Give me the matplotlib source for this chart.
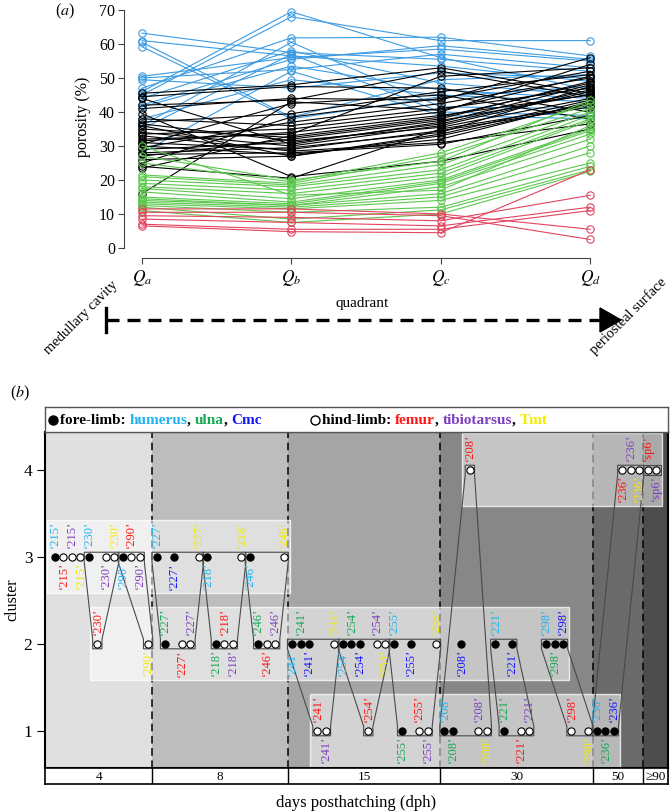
import matplotlib
matplotlib.use('Agg')
import matplotlib.pyplot as plt
from matplotlib.patches import Polygon, Rectangle
from matplotlib.lines import Line2D

plt.rcParams['font.family'] = ['Liberation Serif', 'DejaVu Serif']
plt.rcParams['mathtext.fontset'] = 'stix'

# ---------------- panel (a): porosity per quadrant ----------------
quadrants = ['$Q_a$', '$Q_b$', '$Q_c$', '$Q_d$']

blue_lines = [
    [63.2, 57.5, 55.5, 52.0], [61.0, 56.5, 53.5, 49.0], [60.5, 38.5, 49.5, 51.0],
    [59.2, 38.0, 44.5, 47.5], [50.5, 56.0, 58.5, 55.0], [50.0, 52.5, 57.0, 53.0],
    [49.5, 47.0, 51.5, 50.0], [47.0, 61.8, 62.0, 56.5], [46.0, 69.5, 56.0, 46.5],
    [45.0, 68.0, 61.0, 61.0], [44.0, 58.0, 48.5, 45.0], [42.0, 55.5, 59.5, 55.5],
    [41.5, 53.5, 46.5, 44.0], [38.0, 49.5, 45.0, 43.0], [36.0, 60.5, 41.5, 41.0],
    [35.0, 57.0, 40.0, 39.0], [28.0, 52.0, 39.0, 38.0],
]
black_lines = [
    [45.5, 48.0, 53.0, 45.5], [44.5, 47.5, 47.0, 40.0], [44.0, 30.5, 37.0, 48.0],
    [42.0, 43.5, 52.0, 44.5], [41.0, 44.0, 43.5, 56.0], [39.5, 21.0, 25.5, 35.0],
    [38.0, 36.0, 41.0, 47.0], [37.0, 39.5, 46.0, 51.0], [36.5, 31.5, 35.5, 44.0],
    [36.0, 27.0, 33.0, 42.5], [35.0, 32.5, 38.0, 49.0], [34.0, 30.0, 36.0, 46.0],
    [33.5, 35.0, 40.0, 54.0], [33.0, 28.5, 31.0, 36.5], [32.0, 33.5, 50.5, 53.0],
    [31.5, 34.0, 39.0, 45.0], [31.0, 29.0, 34.5, 41.5], [30.5, 42.5, 45.0, 38.0],
    [30.0, 27.5, 32.0, 43.0], [29.5, 37.0, 42.5, 50.0], [29.0, 31.0, 36.5, 46.5],
    [28.0, 29.5, 34.0, 47.5], [27.5, 28.0, 30.5, 39.0], [27.0, 32.0, 37.5, 45.2],
    [26.0, 27.0, 33.5, 43.5], [25.0, 38.5, 44.0, 52.0], [24.0, 20.5, 35.0, 42.0],
    [23.5, 33.0, 38.5, 48.5], [16.0, 43.0, 40.5, 50.5],
]
green_lines = [
    [30.0, 15.5, 17.0, 36.0], [27.0, 20.0, 25.5, 43.5], [25.0, 19.5, 28.0, 42.5],
    [21.5, 19.0, 27.0, 41.0], [21.0, 18.5, 24.5, 40.0], [20.0, 18.0, 23.0, 39.0],
    [19.0, 17.0, 22.0, 38.0], [18.0, 16.0, 21.0, 37.5], [17.5, 14.5, 20.0, 35.0],
    [16.5, 13.5, 19.5, 34.5], [15.0, 13.0, 19.0, 33.5], [14.5, 12.5, 18.0, 32.0],
    [14.0, 12.5, 16.0, 30.0], [13.5, 12.0, 15.0, 28.0], [13.0, 11.5, 14.0, 25.0],
    [12.5, 10.5, 12.0, 24.0], [12.0, 8.5, 11.2, 23.0], [11.0, 7.5, 10.0, 22.5],
]
red_lines = [
    [11.5, 11.5, 10.0, 5.5], [10.5, 10.5, 9.5, 2.5], [9.5, 9.0, 8.0, 15.5],
    [8.5, 7.5, 6.5, 12.0], [7.0, 5.5, 5.5, 11.0], [6.5, 4.8, 4.5, 23.0],
]

# ---------------- panel (b): clusters per specimen / bone ----------------
specimens = ['215', '230', '290', '227', '218', '246', '241', '254', '255',
             '208', '221', '298', '236', 'sp6']
spec_age = ['4', '4', '4', '8', '8', '8', '15', '15', '15',
            '30', '30', '30', '50', '≥90']
spec_nbones = [4, 4, 4, 6, 5, 5, 6, 6, 6, 6, 6, 6, 6, 2]
point_bone = list('HFTM' * 3 + 'HUCFTM' + 'HUFTM' * 2 + 'HUCFTM' * 7 + 'FT')
point_cluster = [3, 3, 3, 3,  3, 2, 3, 3,  3, 3, 3, 2,
                 3, 2, 3, 2, 2, 3,  3, 2, 2, 2, 3,  3, 2, 2, 2, 3,
                 2, 2, 2, 1, 1, 2,  2, 2, 2, 1, 2, 2,  2, 1, 2, 1, 1, 2,
                 1, 1, 2, 4, 1, 1,  2, 1, 2, 1, 1, None,  2, 2, 2, 1, None, 1,
                 1, 1, 1, 4, 4, 4,  4, 4]
label_up = [1, 0, 1, 0,  1, 1, 0, 1,  0, 1, 0, 0,
            1, 1, 0, 0, 1, 1,  0, 0, 1, 0, 1,  0, 1, 0, 1, 1,
            0, 1, 0, 1, 0, 1,  0, 1, 0, 1, 1, 0,  1, 0, 0, 1, 0, 1,
            1, 0, 0, 1, 1, 0,  1, 1, 0, 0, 1, 0,  1, 0, 1, 1, 0, 0,
            1, 0, 1, 0, 1, 0,  1, 0]
boxed_single = ['sp6']
ages = ['4', '8', '15', '30', '50', '≥90']
age_grey = ['#e0e0e0', '#bdbdbd', '#a5a5a5', '#878787', '#6a6a6a', '#4d4d4d']

bone_color = {'H': '#1db4f0', 'U': '#15a852', 'C': '#1414ff',
              'F': '#ff1414', 'T': '#7d3fbe', 'M': '#f2ea00'}
fore = set('HUC')

BLUE, BLACK, GREEN, RED = '#3b9be3', '#000000', '#5cc84e', '#e2445f'

W, H = 670, 811
fig = plt.figure(figsize=(W / 100, H / 100), dpi=100)


def fx(x):
    return x / W


def fy(y):
    return 1 - y / H


def px_axes(l, t, r, b):
    return fig.add_axes([l / W, 1 - b / H, (r - l) / W, (b - t) / H])


# ---- panel (a)
ax = px_axes(124, 0.5, 608, 257.5)
for rows, col in [(blue_lines, BLUE), (black_lines, BLACK),
                  (green_lines, GREEN), (red_lines, RED)]:
    for r in rows:
        ax.plot(range(4), r, color=col, lw=0.8, marker='o', ms=5.3,
                mfc='none', mec=col, mew=0.8)
ax.set_xlim(-0.12, 3.12)
ax.set_ylim(-2.8, 72.8)
for s in ['top', 'right']:
    ax.spines[s].set_visible(False)
ax.spines['left'].set_bounds(0, 70)
ax.spines['bottom'].set_bounds(0, 3)
for s in ['left', 'bottom']:
    ax.spines[s].set_color('#444444')
    ax.spines[s].set_linewidth(0.8)
ax.set_yticks(range(0, 71, 10))
ax.set_xticks(range(4))
ax.set_xticklabels(quadrants, fontsize=12.5)
ax.tick_params(axis='y', labelsize=11.5, length=4.5, width=0.8, color='#444444', pad=2)
ax.tick_params(axis='x', length=4.5, width=0.8, color='#444444', pad=3)

fig.text(fx(83), fy(117), 'porosity (%)', rotation=90, ha='center', va='center', fontsize=11.5)
fig.text(fx(65), fy(11), '($a$)', ha='center', va='center', fontsize=11.5)
fig.text(fx(362), fy(303), 'quadrant', ha='center', va='center', fontsize=11)

# arrow from medullary cavity to periosteal surface
fig.add_artist(Line2D([fx(106), fx(602)], [fy(320), fy(320)], color='k', lw=2.4,
                      ls=(0, (3.9, 2.4)), solid_capstyle='butt'))
fig.add_artist(Line2D([fx(106), fx(106)], [fy(308), fy(332)], color='k', lw=2.4))
fig.add_artist(Polygon([[fx(600), fy(308)], [fx(600), fy(332)], [fx(621), fy(320)]],
                       closed=True, color='k', transform=fig.transFigure))
fig.text(fx(116), fy(283), 'medullary cavity', rotation=45, rotation_mode='anchor',
         ha='right', va='center', fontsize=10.5)
fig.text(fx(664), fy(280), 'periosteal surface', rotation=45, rotation_mode='anchor',
         ha='right', va='center', fontsize=10.5)

# ---- panel (b)
fig.text(fx(20), fy(393), '($b$)', ha='center', va='center', fontsize=11.5)

n_slots = len(point_bone)
slot_spec = []
for s, n in zip(specimens, spec_nbones):
    slot_spec += [s] * n
slot_age = [spec_age[specimens.index(s)] for s in slot_spec]

axb = px_axes(45, 432, 668, 768)
xl = (-1.18, 72.4)
axb.set_xlim(*xl)
axb.set_ylim(0.575, 4.437)

# age columns
age_lo, age_hi = [], []
for a in ages:
    idx = [i for i in range(n_slots) if slot_age[i] == a]
    age_lo.append(min(idx))
    age_hi.append(max(idx))
bounds = [xl[0]] + [(age_hi[i] + age_lo[i + 1]) / 2 for i in range(len(ages) - 1)] + [xl[1]]
for i, a in enumerate(ages):
    axb.axvspan(bounds[i], bounds[i + 1], color=age_grey[i], lw=0, zorder=0)
for b in bounds[1:-1]:
    axb.axvline(b, color='k', lw=1.1, ls=(0, (5, 3)), zorder=1)

# cluster bands
for c in [1, 2, 3, 4]:
    idx = [i for i in range(n_slots) if point_cluster[i] == c]
    x0, x1 = min(idx) - 0.9, max(idx) + 0.75
    axb.add_patch(Rectangle((x0, c - 0.41), x1 - x0, 0.84, fc=(1, 1, 1, 0.52),
                            ec=(1, 1, 1, 0.75), lw=1, zorder=2))

# specimen outlines
h, dx = 0.055, 0.55
for s in specimens:
    idx = [i for i in range(n_slots) if slot_spec[i] == s and point_cluster[i] is not None]
    cs = [point_cluster[i] for i in idx]
    ct, cb = max(cs), min(cs)
    it = [i for i in idx if point_cluster[i] == ct]
    ib = [i for i in idx if point_cluster[i] == cb]
    L1, R1 = min(it) - dx, max(it) + dx
    L2, R2 = min(ib) - dx, max(ib) + dx
    if ct != cb:
        pts = [(L1, ct + h), (R1, ct + h), (R1, ct - h), (R2, cb + h),
               (R2, cb - h), (L2, cb - h), (L2, cb + h), (L1, ct - h)]
    elif s in boxed_single:
        pts = [(L1, ct + h), (R1, ct + h), (R1, ct - h), (L1, ct - h)]
    else:
        continue
    axb.add_patch(Polygon(pts, closed=True, fill=False, ec='#4a4a4a', lw=0.8, zorder=3))

# points and labels
for i in range(n_slots):
    c = point_cluster[i]
    if c is None:
        continue
    b = point_bone[i]
    axb.plot(i, c, 'o', ms=5.2, mec='k', mew=0.8,
             mfc='k' if b in fore else 'white', zorder=4)
    lab = '‘' + slot_spec[i] + '’'
    if label_up[i]:
        axb.text(i, c + 0.1, lab, rotation=90, ha='center', va='bottom',
                 color=bone_color[b], fontsize=9, zorder=5)
    else:
        axb.text(i, c - 0.06, lab, rotation=90, ha='center', va='top',
                 color=bone_color[b], fontsize=9, zorder=5)

axb.set_xticks([])
axb.set_yticks([1, 2, 3, 4])
axb.tick_params(axis='y', labelsize=12.5, length=6, width=0.8, pad=3)
for sp in axb.spines.values():
    sp.set_linewidth(1.5)
fig.text(fx(12), fy(600), 'cluster', rotation=90, ha='center', va='center', fontsize=11.5)

# days strip
axd = px_axes(45, 768, 668, 784)
axd.set_xlim(*xl)
axd.set_ylim(0, 1)
axd.set_xticks([])
axd.set_yticks([])
for sp in axd.spines.values():
    sp.set_linewidth(1.2)
for b in bounds[1:-1]:
    axd.axvline(b, color='k', lw=1)
for i, a in enumerate(ages):
    axd.text((bounds[i] + bounds[i + 1]) / 2, 0.45, a, ha='center', va='center', fontsize=9.5)
fig.text(fx(356), fy(803), 'days posthatching (dph)', ha='center', va='center', fontsize=12)

# legend strip
axl = px_axes(45, 407, 668, 432)
axl.set_xlim(0, 623)
axl.set_ylim(0, 1)
axl.set_xticks([])
axl.set_yticks([])
for sp in axl.spines.values():
    sp.set_linewidth(1)
    sp.set_color('#555555')
axl.plot([8], [0.5], 'o', ms=6.5, mfc='k', mec='k')
axl.plot([270], [0.5], 'o', ms=6.5, mfc='white', mec='k', mew=1)

renderer = fig.canvas.get_renderer()


def rich_text(x_px, y_px, pieces):
    x = x_px
    for s, col in pieces:
        t = fig.text(fx(x), fy(y_px), s, color=col, ha='left', va='center',
                     fontsize=11, fontweight='bold')
        x += t.get_window_extent(renderer=renderer).width


rich_text(60, 420, [('fore-limb: ', 'k'), ('humerus', bone_color['H']), (', ', 'k'),
                    ('ulna', bone_color['U']), (', ', 'k'), ('Cmc', bone_color['C'])])
rich_text(322, 420, [('hind-limb: ', 'k'), ('femur', bone_color['F']), (', ', 'k'),
                     ('tibiotarsus', bone_color['T']), (', ', 'k'), ('Tmt', bone_color['M'])])

fig.savefig('out.png', dpi=100)
